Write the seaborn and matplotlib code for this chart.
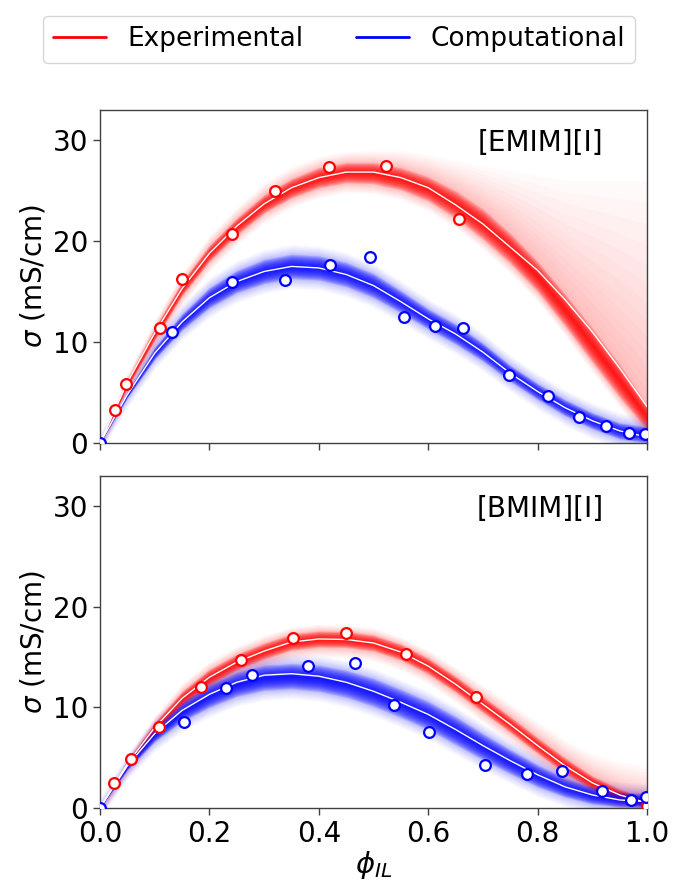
import numpy as np
import matplotlib
matplotlib.use("Agg")
import matplotlib.pyplot as plt
from matplotlib.lines import Line2D
import seaborn as sns

phi_grid = [0.0, 0.05, 0.10, 0.15, 0.20, 0.25, 0.30, 0.35, 0.40, 0.45, 0.50,
            0.55, 0.60, 0.65, 0.70, 0.75, 0.80, 0.85, 0.90, 0.95, 1.00]

# ---- [EMIM][I] ----
emim_exp_x = [0.027, 0.048, 0.110, 0.149, 0.241, 0.320, 0.419, 0.523, 0.657]
emim_exp_y = [3.3, 5.8, 11.4, 16.3, 20.7, 25.0, 27.4, 27.5, 22.2]
emim_comp_x = [0.0, 0.131, 0.242, 0.338, 0.420, 0.494, 0.556, 0.612, 0.663,
               0.748, 0.818, 0.876, 0.924, 0.966, 0.996]
emim_comp_y = [0.0, 11.0, 16.0, 16.2, 17.6, 18.4, 12.5, 11.6, 11.4,
               6.75, 4.7, 2.6, 1.7, 0.96, 0.9]

emim_exp_fit = [0, 6.0, 10.9, 15.3, 18.8, 21.5, 23.7, 25.3, 26.3, 26.85, 26.85,
                26.3, 25.3, 23.6, 21.7, 19.4, 17.1, 14.2, 11.0, 7.4, 3.6]
emim_exp_lo = [0, 5.5, 10.2, 14.6, 18.0, 20.6, 22.8, 24.3, 25.3, 25.8, 25.7,
               25.1, 24.0, 22.3, 20.2, 17.8, 15.0, 11.6, 8.0, 4.5, 1.3]
emim_exp_hi = [0, 6.3, 11.4, 16.0, 19.6, 22.3, 24.6, 26.2, 27.3, 27.8, 27.8,
               27.3, 26.4, 25.0, 23.2, 20.8, 18.0, 14.8, 11.4, 7.8, 3.8]
emim_exp_fan = [0, 6.8, 12.2, 16.9, 20.6, 23.4, 25.8, 27.4, 28.4, 28.9, 29.0,
                29.0, 28.6, 28.0, 27.5, 27.0, 26.5, 26.0, 26.0, 26.0, 26.0]

emim_comp_fit = [0, 4.8, 8.9, 12.0, 14.4, 16.0, 17.0, 17.5, 17.35, 16.7, 15.6,
                 14.0, 12.3, 10.8, 9.0, 6.9, 5.1, 3.5, 2.2, 1.2, 0.6]
emim_comp_lo = [0, 4.5, 8.3, 11.2, 13.4, 14.9, 15.8, 16.3, 16.15, 15.5, 14.4,
                12.9, 11.3, 9.8, 8.1, 6.1, 4.3, 2.7, 1.4, 0.4, 0.0]
emim_comp_hi = [0, 5.1, 9.5, 12.8, 15.4, 17.1, 18.2, 18.7, 18.55, 17.9, 16.8,
                15.1, 13.3, 11.8, 9.9, 7.7, 5.9, 4.3, 3.0, 2.0, 1.6]

# ---- [BMIM][I] ----
bmim_exp_x = [0.026, 0.057, 0.107, 0.184, 0.258, 0.352, 0.450, 0.559, 0.687, 1.0]
bmim_exp_y = [2.5, 4.9, 8.1, 12.0, 14.7, 16.9, 17.4, 15.3, 11.0, 0.2]
bmim_comp_x = [0.0, 0.154, 0.230, 0.277, 0.381, 0.466, 0.538, 0.601, 0.704,
               0.781, 0.844, 0.917, 0.970, 0.998]
bmim_comp_y = [0.0, 8.5, 11.9, 13.2, 14.1, 14.4, 10.2, 7.6, 4.3,
               3.4, 3.7, 1.65, 0.75, 1.1]

bmim_exp_fit = [0, 4.4, 8.0, 10.9, 13.0, 14.5, 15.6, 16.5, 16.8, 16.75, 16.4,
                15.5, 14.1, 12.3, 10.3, 8.3, 6.2, 4.2, 2.5, 1.3, 0.5]
bmim_exp_lo = [0, 4.1, 7.5, 10.2, 12.2, 13.7, 14.8, 15.7, 16.0, 15.95, 15.6,
               14.7, 13.3, 11.5, 9.5, 7.5, 5.4, 3.4, 1.8, 0.7, 0.1]
bmim_exp_hi = [0, 4.7, 8.5, 11.6, 13.8, 15.3, 16.4, 17.3, 17.6, 17.55, 17.2,
               16.3, 14.9, 13.1, 11.1, 9.1, 7.0, 5.0, 3.2, 1.9, 0.9]
bmim_exp_fan = [0, 5.0, 9.2, 12.4, 14.6, 16.1, 17.2, 18.0, 18.3, 18.2, 17.9,
                17.0, 15.7, 14.0, 12.2, 10.4, 8.6, 6.8, 5.4, 4.6, 4.2]

bmim_comp_fit = [0, 4.2, 7.4, 9.7, 11.3, 12.5, 13.2, 13.35, 13.1, 12.5, 11.6,
                 10.5, 9.3, 7.8, 6.2, 4.7, 3.3, 2.1, 1.3, 0.8, 0.65]
bmim_comp_lo = [0, 3.8, 6.6, 8.6, 10.0, 11.1, 11.7, 11.85, 11.6, 11.0, 10.1,
                9.0, 7.8, 6.3, 4.8, 3.4, 2.1, 1.1, 0.4, 0.1, 0.05]
bmim_comp_hi = [0, 4.5, 8.0, 10.5, 12.3, 13.5, 14.2, 14.35, 14.2, 13.7, 12.9,
                11.8, 10.6, 9.1, 7.4, 5.8, 4.3, 3.0, 2.1, 1.6, 1.45]

RED = (1.0, 0.0, 0.0)
BLUE = (0.0, 0.0, 1.0)

sns.set_style("ticks")
plt.rcParams["font.family"] = ["DejaVu Sans"]
plt.rcParams["mathtext.fontset"] = "dejavusans"
plt.rcParams["text.color"] = "black"
plt.rcParams["axes.labelcolor"] = "black"
plt.rcParams["xtick.color"] = "black"
plt.rcParams["ytick.color"] = "black"


def draw_band(ax, lo, hi, fan, color, n_core=12, n_fan=14):
    lo = np.asarray(lo, float)
    hi = np.asarray(hi, float)
    mid = (lo + hi) / 2
    # faint spread of posterior samples
    top = np.asarray(fan, float) if fan is not None else hi + 1.0
    bot = lo - 1.0
    for k in range(1, n_fan + 1):
        f = (k / n_fan) ** 1.4
        ax.fill_between(phi_grid, lo - f * (lo - bot), hi + f * (top - hi),
                        color=color, alpha=0.018, lw=0, zorder=1)
    # dense core, more opaque towards its middle
    for k in range(1, n_core + 1):
        f = k / n_core
        ax.fill_between(phi_grid, mid - f * (mid - lo), mid + f * (hi - mid),
                        color=color, alpha=0.15, lw=0, zorder=2)


def draw_series(ax, px, py, fit, lo, hi, fan, color):
    draw_band(ax, lo, hi, fan, color)
    sns.lineplot(x=phi_grid, y=fit, ax=ax, color="white", lw=1.0,
                 estimator=None, legend=False, zorder=3)
    sns.scatterplot(x=px, y=py, ax=ax, s=60, color="white", edgecolor=color,
                    linewidth=1.6, legend=False, zorder=4)


fig = plt.figure(figsize=(6.78, 8.86), dpi=100)
ax1 = fig.add_axes([0.1475, 0.5, 0.807, 0.3758])
ax2 = fig.add_axes([0.1475, 0.088, 0.807, 0.3748], sharex=ax1)

draw_series(ax1, emim_exp_x, emim_exp_y, emim_exp_fit, emim_exp_lo, emim_exp_hi,
            emim_exp_fan, RED)
draw_series(ax1, emim_comp_x, emim_comp_y, emim_comp_fit, emim_comp_lo,
            emim_comp_hi, None, BLUE)
draw_series(ax2, bmim_exp_x, bmim_exp_y, bmim_exp_fit, bmim_exp_lo, bmim_exp_hi,
            bmim_exp_fan, RED)
draw_series(ax2, bmim_comp_x, bmim_comp_y, bmim_comp_fit, bmim_comp_lo,
            bmim_comp_hi, None, BLUE)

for ax, name in [(ax1, "[EMIM][I]"), (ax2, "[BMIM][I]")]:
    ax.set_xlim(0, 1)
    ax.set_ylim(0, 33)
    ax.set_yticks([0, 10, 20, 30])
    ax.set_ylabel(r"$\sigma$ (mS/cm)", fontsize=20)
    ax.tick_params(labelsize=20, length=5, width=1, color="0.25")
    ax.text(0.92, 0.9, name, transform=ax.transAxes, ha="right", va="center",
            fontsize=20)
    for sp in ax.spines.values():
        sp.set_color("0.25")
        sp.set_linewidth(1.0)

ax1.tick_params(labelbottom=False)
ax2.set_xticks([0.0, 0.2, 0.4, 0.6, 0.8, 1.0])
ax2.set_xlabel(r"$\phi_{IL}$", fontsize=21, labelpad=1)

handles = [Line2D([], [], color=RED, lw=2), Line2D([], [], color=BLUE, lw=2)]
fig.legend(handles, ["Experimental", "Computational"], loc="upper center",
           bbox_to_anchor=(0.5, 0.997), ncol=2, fontsize=19, frameon=True,
           handlelength=2.0, columnspacing=2.0)

fig.savefig("out.png", dpi=100)
